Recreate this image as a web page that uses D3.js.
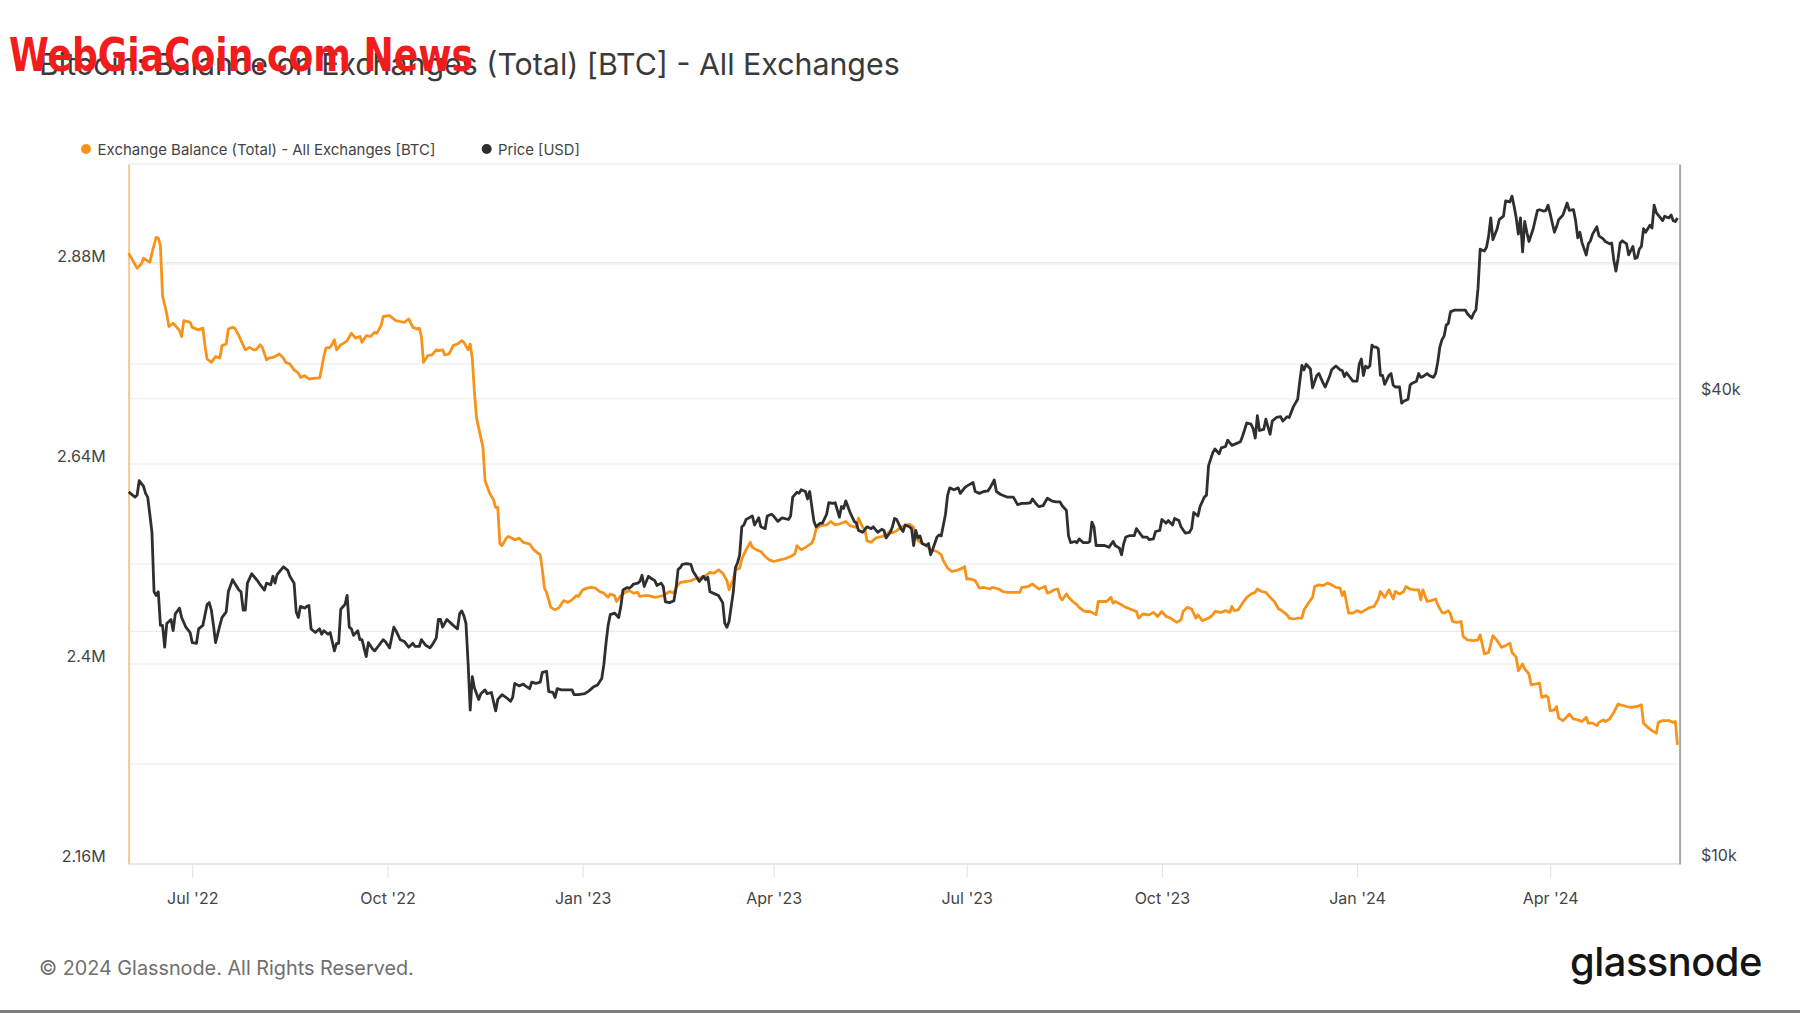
<!DOCTYPE html>
<html><head><meta charset="utf-8">
<script src="https://cdn.jsdelivr.net/npm/d3@7"></script>
<style>html,body{margin:0;padding:0;background:#fff;}svg{display:block;}</style>
</head><body>
<svg id="chart" width="1800" height="1013"></svg>
<script>
// ---------- DATA ----------
const startDate = "2022-06-01";
const endDate = "2024-06-01";
// [days since startDate, exchange balance in million BTC]
const balanceSeries = [[0,2.893],[2,2.884],[4,2.875],[6,2.880],[7,2.887],[10,2.882],[11,2.893],[13,2.912],[14,2.911],[15,2.902],[16,2.842],[18,2.820],[19,2.805],[21,2.809],[22,2.806],[24,2.800],[25,2.793],[26,2.812],[29,2.810],[30,2.804],[33,2.801],[35,2.803],[36,2.782],[37,2.766],[39,2.762],[41,2.769],[43,2.767],[44,2.782],[46,2.784],[47,2.802],[49,2.804],[50,2.803],[52,2.794],[53,2.788],[55,2.777],[57,2.780],[59,2.777],[60,2.777],[62,2.783],[63,2.780],[65,2.765],[66,2.767],[68,2.768],[69,2.769],[71,2.772],[73,2.767],[74,2.762],[76,2.760],[78,2.753],[80,2.749],[81,2.744],[83,2.746],[85,2.742],[88,2.743],[90,2.743],[91,2.755],[92,2.769],[93,2.779],[95,2.780],[96,2.784],[97,2.789],[98,2.777],[100,2.783],[102,2.786],[103,2.788],[105,2.797],[107,2.791],[109,2.793],[110,2.786],[112,2.794],[114,2.793],[116,2.798],[117,2.797],[119,2.806],[120,2.817],[123,2.818],[124,2.816],[126,2.812],[128,2.811],[130,2.810],[132,2.814],[134,2.804],[136,2.802],[137,2.803],[138,2.793],[139,2.762],[141,2.770],[143,2.771],[145,2.777],
[146,2.776],[148,2.777],[149,2.771],[151,2.772],[153,2.782],[155,2.784],[157,2.788],[158,2.786],[160,2.777],[161,2.784],[162,2.766],[163,2.726],[164,2.695],[167,2.660],[168,2.620],[170,2.606],[172,2.597],[173,2.588],[174,2.588],[175,2.544],[176,2.542],[178,2.551],[179,2.553],[182,2.549],[184,2.551],[186,2.546],[189,2.544],[191,2.537],[194,2.531],[195,2.513],[196,2.491],[197,2.486],[199,2.468],[201,2.465],[203,2.468],[205,2.476],[207,2.474],[209,2.477],[211,2.482],[212,2.481],[214,2.489],[216,2.491],[218,2.492],[220,2.491],[222,2.487],[224,2.485],[226,2.480],[227,2.484],[229,2.482],[230,2.475],[232,2.482],[234,2.486],[236,2.488],[238,2.485],[240,2.486],[241,2.481],[243,2.482],[245,2.482],[248,2.480],[250,2.481],[252,2.482],[255,2.487],[257,2.485],[258,2.492],[260,2.498],[263,2.499],[265,2.500],[267,2.502],[270,2.504],[272,2.506],[274,2.510],[276,2.509],[278,2.513],[280,2.509],[282,2.500],[283,2.489],[285,2.502],[286,2.513],[288,2.515],[289,2.526],[291,2.537],[293,2.546],
[294,2.540],[296,2.537],[298,2.535],[300,2.529],[302,2.525],[304,2.523],[307,2.525],[309,2.526],[312,2.529],[314,2.532],[315,2.542],[317,2.537],[319,2.540],[322,2.545],[323,2.551],[324,2.562],[326,2.566],[329,2.567],[331,2.571],[333,2.567],[335,2.568],[337,2.570],[338,2.571],[340,2.566],[343,2.564],[344,2.575],[346,2.564],[347,2.562],[348,2.548],[350,2.546],[352,2.551],[355,2.553],[357,2.555],[359,2.560],[360,2.557],[362,2.560],[364,2.564],[366,2.566],[368,2.568],[370,2.564],[371,2.551],[373,2.546],[376,2.542],[378,2.537],[381,2.535],[383,2.531],[384,2.524],[386,2.515],[388,2.511],[391,2.513],[393,2.515],[394,2.517],[395,2.502],[397,2.502],[399,2.500],[401,2.491],[403,2.492],[406,2.490],[407,2.492],[410,2.490],[412,2.487],[414,2.486],[417,2.486],[420,2.486],[421,2.492],[424,2.493],[426,2.496],[428,2.492],[429,2.490],[432,2.493],[433,2.485],[435,2.487],[436,2.489],[438,2.490],[439,2.480],
[440,2.477],[442,2.484],[443,2.480],[445,2.475],[447,2.471],[448,2.468],[450,2.464],[451,2.463],[453,2.463],[454,2.462],[456,2.459],[457,2.475],[459,2.475],[461,2.475],[463,2.480],[464,2.473],[465,2.475],[468,2.471],[470,2.468],[472,2.466],[475,2.463],[476,2.455],[478,2.460],[481,2.459],[483,2.462],[485,2.457],[487,2.463],[489,2.457],[491,2.455],[494,2.450],[496,2.453],[497,2.463],[499,2.468],[501,2.466],[503,2.455],[504,2.459],[506,2.452],[509,2.455],[511,2.459],[512,2.463],[515,2.462],[517,2.464],[519,2.462],[520,2.469],[521,2.464],[523,2.465],[525,2.473],[527,2.480],[529,2.484],[531,2.486],[532,2.490],[534,2.487],[536,2.486],[538,2.480],[540,2.475],[542,2.466],[543,2.465],[546,2.459],[547,2.455],[549,2.454],[551,2.455],[553,2.455],[554,2.465],[556,2.473],[558,2.480],[559,2.493],[561,2.495],[563,2.494],[565,2.497],[567,2.495],[569,2.492],[571,2.491],[572,2.482],[573,2.487],[575,2.461],[577,2.461],[579,2.464],[581,2.462],[583,2.465],
[585,2.468],[587,2.469],[589,2.478],[590,2.487],[592,2.480],[594,2.489],[596,2.478],[597,2.487],[599,2.484],[601,2.487],[602,2.493],[604,2.490],[606,2.489],[608,2.489],[609,2.477],[610,2.489],[612,2.475],[614,2.476],[616,2.478],[617,2.471],[619,2.462],[620,2.461],[622,2.464],[623,2.460],[624,2.451],[626,2.450],[628,2.451],[629,2.433],[631,2.429],[634,2.428],[636,2.429],[637,2.435],[639,2.412],[641,2.414],[642,2.424],[643,2.434],[645,2.428],[647,2.420],[649,2.422],[651,2.425],[652,2.414],[654,2.408],[655,2.392],[657,2.400],[658,2.394],[660,2.388],[661,2.375],[663,2.376],[665,2.377],[666,2.360],[668,2.362],[669,2.360],[670,2.344],[672,2.345],[673,2.349],[674,2.335],[676,2.332],[678,2.337],[679,2.340],[681,2.334],[683,2.333],[685,2.331],[687,2.336],[688,2.329],[690,2.329],[692,2.326],[693,2.330],[695,2.333],[696,2.331],[698,2.334],[700,2.342],[702,2.352],[703,2.351],[706,2.349],[708,2.348],[711,2.349],[713,2.351],[714,2.329],[716,2.324],[718,2.320],[720,2.317],[721,2.330],[723,2.332],[726,2.332],[728,2.330],[729,2.331],[730,2.303]];

// [days since startDate, BTC price in thousand USD]
const priceSeries = [[0,30.3],[2,30.0],[3,29.84],[4,30.0],[5,31.33],[7,30.83],[8,30.17],[9,29.84],[10,28.35],[11,26.87],[12,22.50],[13,22.26],[14,22.50],[15,20.36],[16,20.36],[17,19.08],[18,20.48],[19,20.60],[20,20.72],[21,20.04],[22,21.07],[24,21.43],[25,20.84],[27,20.25],[29,19.93],[30,19.34],[32,19.30],[33,20.15],[35,20.36],[37,21.67],[38,21.79],[39,21.31],[40,20.36],[41,19.34],[43,20.36],[44,20.84],[46,21.19],[47,22.50],[49,23.33],[50,23.09],[52,22.62],[53,22.50],[54,21.31],[55,21.31],[56,23.09],[58,23.74],[59,23.57],[61,23.21],[62,22.98],[64,22.62],[65,23.09],[67,22.98],[68,23.57],[69,23.09],[70,23.69],[72,24.06],[73,24.24],[75,23.99],[76,23.57],[78,23.09],[79,21.19],[80,20.84],[81,21.55],[83,21.43],[84,21.55],[85,21.60],[86,20.15],[88,19.93],[90,20.15],[91,19.83],[92,20.04],[94,19.83],[95,19.93],[97,18.87],[98,19.30],[99,19.30],[100,21.36],[102,21.67],[103,22.26],[104,20.25],[105,20.15],[106,19.76],[108,20.04],[109,19.51],[110,19.51],[112,18.55],[113,19.34],[115,18.98],[116,18.87],[118,19.19],[120,19.51],[121,19.40],[123,19.04],[125,20.25],[126,20.04],[128,19.51],[130,19.40],[132,19.08],[134,19.30],[135,19.12],[137,19.12],[138,19.51],[140,19.19],[142,19.04],[143,19.19],[145,19.61],[146,20.72],
[147,20.72],[148,20.25],[150,20.72],[152,20.48],[153,20.36],[155,20.15],[156,21.07],[157,21.26],[158,20.96],[159,20.48],[160,18.23],[161,15.82],[162,17.47],[163,16.90],[165,16.33],[166,16.61],[168,16.80],[169,16.61],[171,16.67],[173,15.78],[174,16.33],[176,16.56],[178,16.42],[180,16.24],[181,16.42],[182,17.13],[184,17.00],[186,17.09],[187,17.00],[189,16.86],[190,17.19],[192,17.13],[194,17.19],[195,17.70],[197,17.76],[198,16.71],[200,16.67],[201,16.42],[202,16.86],[204,16.80],[207,16.80],[209,16.80],[210,16.56],[212,16.56],[215,16.61],[217,16.75],[219,16.94],[221,17.05],[223,17.38],[224,18.14],[225,19.30],[226,20.36],[227,21.02],[229,21.12],[231,20.84],[232,21.55],[233,22.62],[235,22.79],[236,22.74],[237,22.86],[238,23.03],[240,23.09],[241,23.21],[242,23.64],[243,22.86],[245,23.57],[246,23.45],[248,23.26],[249,22.93],[251,23.09],[252,22.86],[253,21.84],[255,21.79],[257,21.91],[258,22.74],[259,24.06],[260,24.18],[261,24.42],[263,24.47],[265,24.42],[266,23.93],[267,23.69],[269,23.21],[271,23.57],[272,23.33],[273,23.50],[274,22.50],[276,22.38],[278,22.26],[280,21.79],[281,20.48],[282,20.25],[283,20.60],[285,22.50],[286,24.18],[287,24.54],[288,25.12],[289,27.31],[290,27.46],[291,27.91],[293,28.11],
[294,28.20],[295,27.46],[297,28.05],[298,27.31],[300,27.16],[301,28.20],[303,28.35],[304,28.20],[306,27.76],[308,28.05],[311,27.91],[312,28.20],[313,29.84],[315,30.27],[316,30.17],[317,30.50],[319,30.34],[320,29.67],[321,30.34],[322,29.01],[323,27.76],[324,27.31],[326,27.61],[327,27.61],[329,28.35],[330,29.34],[332,29.28],[333,29.34],[335,28.11],[336,29.01],[337,28.85],[338,29.51],[340,28.52],[342,27.76],[343,27.61],[344,27.02],[346,26.87],[348,27.31],[350,27.16],[351,27.31],[353,26.87],[355,27.11],[356,27.02],[357,26.43],[359,26.87],[360,27.31],[361,28.00],[362,27.91],[364,27.16],[365,26.93],[366,27.46],[368,27.31],[369,27.16],[370,25.83],[371,27.02],[372,26.43],[373,26.58],[374,25.98],[376,25.83],[377,25.98],[378,25.12],[379,25.54],[381,26.49],[382,26.66],[383,26.58],[385,28.35],[386,30.00],[387,30.67],[389,30.50],[391,30.67],[392,30.17],[394,30.67],[395,30.83],[398,31.16],[399,30.34],[401,30.17],[403,30.34],[405,30.40],[406,30.67],[408,31.40],[409,30.34],[411,30.07],[414,29.84],[416,29.84],[417,29.84],[419,29.18],[421,29.28],[423,29.28],[425,29.34],[426,29.67],[428,29.18],[429,29.01],[431,29.08],[433,29.74],[435,29.51],[437,29.41],
[439,29.41],[440,29.08],[442,28.68],[443,26.58],[444,26.05],[446,26.14],[447,26.05],[448,26.34],[450,26.05],[452,26.05],[453,26.14],[454,27.70],[455,27.31],[456,25.83],[458,25.83],[460,25.83],[462,25.69],[464,26.14],[465,25.83],[467,25.63],[468,25.12],[469,25.98],[470,26.49],[472,26.61],[474,26.61],[475,27.16],[476,26.93],[478,26.49],[480,26.49],[481,26.28],[483,26.34],[484,26.93],[486,27.02],[487,27.91],[489,27.61],[490,27.82],[492,27.46],[493,28.00],[495,27.82],[496,27.31],[498,26.81],[500,26.87],[501,27.16],[502,28.50],[504,28.20],[505,29.01],[507,29.84],[508,30.00],[509,32.77],[511,34.06],[512,34.44],[514,33.95],[515,34.55],[517,34.69],[518,35.36],[520,34.81],[522,34.99],[524,35.18],[525,35.77],[527,37.21],[529,37.09],[530,36.60],[531,35.57],[532,38.04],[533,36.39],[535,36.51],[536,37.63],[538,35.98],[539,37.42],[541,37.83],[543,37.91],[544,37.42],[546,37.91],[547,37.83],[549,39.07],[551,39.94],[552,42.15],[553,44.19],[554,43.60],[555,44.33],[557,43.70],[558,41.32],[560,42.87],[561,43.12],[563,41.90],[564,41.42],[566,42.73],[567,43.60],[569,44.09],[571,43.60],[572,43.51],[573,42.73],[574,43.21],[575,42.87],[577,42.15],[579,42.15],[580,44.33],[581,45.02],[582,42.87],[583,44.09],[584,43.85],
[585,44.09],[586,46.92],[587,46.66],[588,46.66],[589,46.40],[590,42.87],[591,42.87],[592,41.75],[594,42.87],[595,43.12],[596,41.66],[597,41.42],[598,41.42],[599,41.42],[600,39.48],[601,39.71],[603,39.94],[604,41.66],[605,41.90],[607,42.15],[608,43.12],[609,42.63],[610,42.73],[612,43.12],[613,42.87],[615,42.63],[616,43.12],[617,44.60],[618,46.66],[619,47.69],[620,48.20],[621,49.80],[622,50.07],[623,51.81],[625,52.10],[627,52.10],[628,52.10],[630,52.10],[631,51.53],[633,50.84],[634,51.64],[635,52.10],[636,55.61],[637,62.46],[639,62.11],[640,62.82],[641,64.97],[642,68.55],[643,64.25],[645,66.38],[646,68.19],[648,68.91],[649,72.12],[651,71.89],[652,73.15],[653,70.96],[654,68.55],[655,65.32],[656,68.55],[657,61.96],[658,67.83],[659,65.69],[660,63.90],[662,66.38],[664,70.11],[665,70.25],[667,69.96],[668,70.11],[669,71.20],[670,69.41],[672,65.69],[673,66.76],[674,68.19],[676,69.13],[678,71.66],[679,70.11],[681,70.25],[682,67.96],[683,64.61],[684,65.69],[685,63.69],[687,61.39],[688,63.47],[689,64.04],[690,65.32],[692,66.76],[693,64.97],[695,64.40],[696,63.90],[698,63.47],[699,63.61],[700,60.43],[701,58.50],[702,60.75],[703,63.61],[704,64.04],[706,63.47],[707,61.39],[709,62.96],[710,60.75],[711,60.88],[712,62.46],[713,62.96],[714,66.38],[715,65.69],[717,67.08],[718,66.52],[719,71.20],[720,69.62],[722,68.55],[723,68.00],[724,68.91],[726,68.55],[727,69.13],[728,68.00],[729,67.83],[730,68.55]];

const xTickDates = ["2022-07-01","2022-10-01","2023-01-01","2023-04-01","2023-07-01","2023-10-01","2024-01-01","2024-04-01"];
const xTickLabels = ["Jul '22","Oct '22","Jan '23","Apr '23","Jul '23","Oct '23","Jan '24","Apr '24"];
const leftTicks = [2.16, 2.4, 2.64, 2.88];
const leftTickLabels = ["2.16M", "2.4M", "2.64M", "2.88M"];
const leftGridValues = [2.16, 2.28, 2.4, 2.52, 2.64, 2.76, 2.88];
const leftDomain = [2.16, 3.0];
const rightTicks = [10, 40];
const rightTickLabels = ["$10k", "$40k"];
const rightGridValues = [20, 40, 60];
const rightDomain = [10, 80.5];
const titleText = "Bitcoin: Balance on Exchanges (Total) [BTC] - All Exchanges";
const watermarkText = "WebGiaCoin.com News";
const legendLabels = ["Exchange Balance (Total) - All Exchanges [BTC]", "Price [USD]"];
const footerText = "© 2024 Glassnode. All Rights Reserved.";
const logoText = "glassnode";

// ---------- STYLE / LAYOUT ----------
const W = 1800, H = 1013;
const plot = {left: 128.6, right: 1679.6, top: 164, bottom: 864};
const ORANGE = "#f7931a", DARK = "#2f2f2f";
const FONT = "Inter, 'Noto Sans', 'DejaVu Sans', sans-serif";

const svg = d3.select("#chart");
svg.append("rect").attr("width", W).attr("height", H).attr("fill", "#fff");

const parse = d3.utcParse("%Y-%m-%d");
const t0 = parse(startDate);
const x = d3.scaleUtc().domain([t0, parse(endDate)]).range([plot.left, plot.right]);
const yL = d3.scaleLinear().domain(leftDomain).range([plot.bottom, plot.top]);
const yR = d3.scaleLog().domain(rightDomain).range([plot.bottom, plot.top]);

const balance = balanceSeries.map(([d, v]) => ({date: d3.utcDay.offset(t0, d), v}));
const price = priceSeries.map(([d, v]) => ({date: d3.utcDay.offset(t0, d), v}));

function fit(sel, target) {
  const w = sel.node().getComputedTextLength();
  const fs = parseFloat(sel.attr("font-size"));
  if (w > 0) sel.attr("font-size", fs * target / w);
}

// gridlines
const grid = svg.append("g");
grid.selectAll(".gl").data(leftGridValues).join("line")
  .attr("x1", plot.left).attr("x2", plot.right)
  .attr("y1", d => yL(d)).attr("y2", d => yL(d))
  .attr("stroke", "#ececec").attr("stroke-width", 1.2);
grid.selectAll(".gr").data(rightGridValues).join("line")
  .attr("x1", plot.left).attr("x2", plot.right)
  .attr("y1", d => yR(d)).attr("y2", d => yR(d))
  .attr("stroke", "#ececec").attr("stroke-width", 1.2);
// plot frame
grid.append("line").attr("x1", plot.left).attr("x2", plot.right).attr("y1", plot.top).attr("y2", plot.top)
  .attr("stroke", "#e6e6e6").attr("stroke-width", 1.2);
grid.append("line").attr("x1", plot.left).attr("x2", plot.right).attr("y1", plot.bottom).attr("y2", plot.bottom)
  .attr("stroke", "#dcdcdc").attr("stroke-width", 1.2);

// x axis
const xAxis = d3.axisBottom(x)
  .tickValues(xTickDates.map(parse))
  .tickFormat((d, i) => xTickLabels[i])
  .tickSize(14).tickPadding(15);
const gx = svg.append("g").attr("transform", `translate(0,${plot.bottom})`).call(xAxis);
gx.select(".domain").remove();
gx.selectAll(".tick line").attr("stroke", "#e6e6e6").attr("stroke-width", 1.2);
gx.selectAll(".tick text").attr("fill", "#444").attr("font-size", 16).attr("font-family", FONT);

// left axis
const yAxisL = d3.axisLeft(yL).tickValues(leftTicks).tickFormat((d, i) => leftTickLabels[i]).tickSize(0);
const gyl = svg.append("g").attr("transform", `translate(${plot.left},0)`).call(yAxisL);
gyl.select(".domain").attr("stroke", "#fac792").attr("stroke-width", 2);
gyl.selectAll(".tick text").attr("x", -23).attr("dy", null).attr("y", -3)
  .attr("fill", "#444").attr("font-size", 16).attr("font-family", FONT);

// right axis
const yAxisR = d3.axisRight(yR).tickValues(rightTicks).tickFormat((d, i) => rightTickLabels[i]).tickSize(0);
const gyr = svg.append("g").attr("transform", `translate(${plot.right},0)`).call(yAxisR);
gyr.select(".domain").attr("stroke", "#a8a8a8").attr("stroke-width", 2);
gyr.selectAll(".tick text").attr("x", 21.5).attr("dy", null).attr("y", -4)
  .attr("fill", "#444").attr("font-size", 16).attr("font-family", FONT);

// lines
const lineL = d3.line().x(d => x(d.date)).y(d => yL(d.v));
const lineR = d3.line().x(d => x(d.date)).y(d => yR(d.v));
svg.append("path").datum(balance).attr("d", lineL)
  .attr("fill", "none").attr("stroke", ORANGE).attr("stroke-width", 2.8).attr("stroke-linejoin", "round");
svg.append("path").datum(price).attr("d", lineR)
  .attr("fill", "none").attr("stroke", DARK).attr("stroke-width", 2.8).attr("stroke-linejoin", "round");

// title
const title = svg.append("text").attr("x", 39).attr("y", 75)
  .attr("font-family", FONT).attr("font-size", 28).attr("fill", "#3a3a3a").text(titleText);
fit(title, 861);

// watermark overlay (as in the reference image)
svg.append("text").attr("x", 9).attr("y", 71)
  .attr("font-family", "'Liberation Sans Narrow', 'Arial Narrow', 'DejaVu Sans Condensed', 'Liberation Sans', sans-serif")
  .attr("font-weight", "bold").attr("font-size", 46).attr("fill", "#f21c1c")
  .attr("textLength", 464).attr("lengthAdjust", "spacingAndGlyphs").text(watermarkText);

// legend
const legend = svg.append("g");
const legendPos = [{cx: 86, tx: 97.6, w: 338, color: ORANGE}, {cx: 486.7, tx: 498, w: 82, color: DARK}];
legendLabels.forEach((lab, i) => {
  const p = legendPos[i];
  legend.append("circle").attr("cx", p.cx).attr("cy", 149).attr("r", 5).attr("fill", p.color);
  const t = legend.append("text").attr("x", p.tx).attr("y", 154.5)
    .attr("font-family", FONT).attr("font-size", 14.5).attr("fill", "#444").text(lab);
  fit(t, p.w);
});

// footer
const foot = svg.append("text").attr("x", 39).attr("y", 975)
  .attr("font-family", FONT).attr("font-size", 20).attr("fill", "#6f6f6f").text(footerText);
fit(foot, 375);
const logo = svg.append("text").attr("x", 1570).attr("y", 976)
  .attr("font-family", FONT).attr("font-weight", 500).attr("font-size", 40).attr("fill", "#151515")
  .attr("letter-spacing", -0.5).text(logoText);
fit(logo, 192);

svg.append("rect").attr("x", 0).attr("y", 1010).attr("width", W).attr("height", 3).attr("fill", "#7d7d7d");
</script>
</body></html>
